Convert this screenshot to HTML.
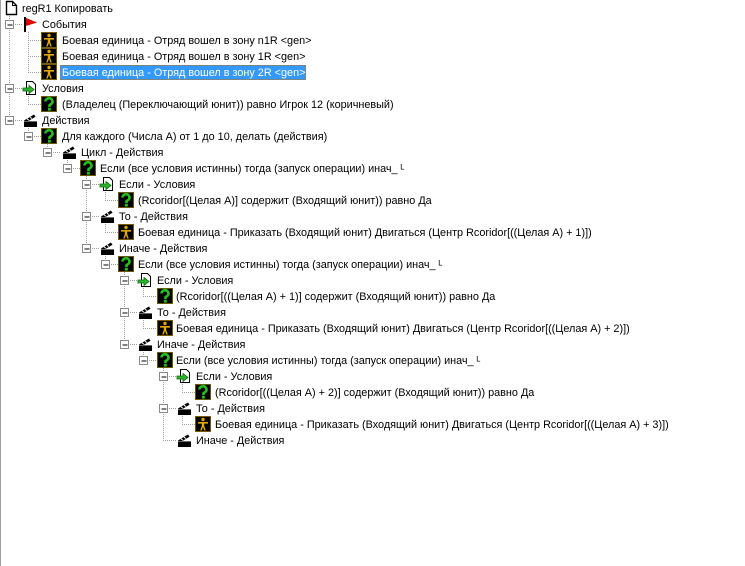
<!DOCTYPE html>
<html><head><meta charset="utf-8"><style>
html,body{margin:0;padding:0;background:#fff;width:745px;height:566px;overflow:hidden}
svg{display:block}
text{font-family:"Liberation Sans","DejaVu Sans",sans-serif;font-size:10.85px;fill:#000}
</style></head><body>
<svg width="745" height="566" viewBox="0 0 745 566" xmlns="http://www.w3.org/2000/svg">
<defs>
<g id="doc"><path d="M3.5 1.5h6l4 4v9h-10z" fill="#fff" stroke="#000" stroke-width="1.4"/><path d="M9.5 1.5v4h4" fill="none" stroke="#000"/></g>
<g id="flag"><rect x="2" y="1" width="2" height="15" fill="#000"/><path d="M4 2l11 4.5L4 10z" fill="#e00000"/></g>
<g id="unit"><rect x="0" y="0" width="16" height="16" fill="#000"/><rect x="0.5" y="0.5" width="15" height="15" fill="none" stroke="#7a5a00"/><circle cx="8" cy="3.5" r="1.7" fill="#e0a800"/><path d="M3 6h10v1.6H9.2v2.4l1.6 4.5H9.3L8 11 6.7 14.5H5.2l1.6-4.5V7.6H3z" fill="#e0a800"/></g>
<g id="q"><rect x="0" y="0" width="16" height="16" fill="#000"/><rect x="0.5" y="0.5" width="15" height="15" fill="none" stroke="#6a5a00"/><path d="M4.5 5.5a3.5 3.3 0 1 1 5 3l-1 .8v2" fill="none" stroke="#22c21a" stroke-width="2.6"/><rect x="7" y="12" width="2.8" height="2.6" fill="#22c21a"/></g>
<g id="cond"><path d="M4.5 1.5h6l3 3v10h-9z" fill="#fff" stroke="#000"/><path d="M1 8h6V5.5l5 4-5 4V11H1z" fill="#2fb52f" stroke="#0a6a0a" stroke-width="0.8"/></g>
<g id="act"><rect x="2" y="9" width="13" height="6" fill="#000"/><path d="M2 8.5l10-6 1.5 2.2-10 6z" fill="#000"/><path d="M5 6.7l1.8 1.6M8 5l1.8 1.6" stroke="#fff" stroke-width="1"/><rect x="2" y="9" width="13" height="1" fill="#666"/></g>
<g id="box"><rect x="-4" y="-4" width="8" height="8" fill="#fff" stroke="#8a8a8a"/><path d="M-2 0.5h5" stroke="#000"/></g>
</defs>
<line x1="0.5" y1="0" x2="0.5" y2="566" stroke="#a0a0a0"/>
<g stroke="#a0a0a0" stroke-dasharray="1 1" stroke-width="1">
<path d="M9.5 16V120.5 M28.5 32V72.5 M28.5 96V104.5 M28.5 128V136.5 M47.5 144V152.5 M67.5 160V168.5 M86.5 176V248.5 M105.5 192V200.5 M105.5 224V232.5 M105.5 256V264.5 M124.5 272V344.5 M143.5 288V296.5 M143.5 320V328.5 M143.5 352V360.5 M163.5 368V440.5 M182.5 384V392.5 M182.5 416V424.5"/>
<path d="M9 24.5H22 M9 88.5H22 M9 120.5H22
M28 40.5H41 M28 56.5H41 M28 72.5H41 M28 104.5H41 M28 136.5H41
M47 152.5H61 M67 168.5H80
M86 184.5H99 M86 216.5H99 M86 248.5H99
M105 200.5H118 M105 232.5H118 M105 264.5H118
M124 280.5H137 M124 312.5H137 M124 344.5H137
M143 296.5H157 M143 328.5H157 M143 360.5H157
M163 376.5H176 M163 408.5H176 M163 440.5H176
M182 392.5H195 M182 424.5H195"/>
</g>
<use href="#box" x="9.5" y="24.5"/><use href="#box" x="9.5" y="88.5"/><use href="#box" x="9.5" y="120.5"/>
<use href="#box" x="28.5" y="136.5"/><use href="#box" x="47.5" y="152.5"/><use href="#box" x="67.5" y="168.5"/>
<use href="#box" x="86.5" y="184.5"/><use href="#box" x="86.5" y="216.5"/><use href="#box" x="86.5" y="248.5"/>
<use href="#box" x="105.5" y="264.5"/><use href="#box" x="124.5" y="280.5"/><use href="#box" x="124.5" y="312.5"/><use href="#box" x="124.5" y="344.5"/>
<use href="#box" x="143.5" y="360.5"/><use href="#box" x="163.5" y="376.5"/><use href="#box" x="163.5" y="408.5"/>
<use href="#doc" x="3" y="0"/>
<use href="#flag" x="22" y="16"/>
<use href="#unit" x="41" y="32"/><use href="#unit" x="41" y="48"/><use href="#unit" x="41" y="64"/>
<use href="#cond" x="22" y="80"/>
<use href="#q" x="41" y="96"/>
<use href="#act" x="22" y="112"/>
<use href="#q" x="41" y="128"/>
<use href="#act" x="61" y="144"/>
<use href="#q" x="80" y="160"/>
<use href="#cond" x="99" y="176"/>
<use href="#q" x="118" y="192"/>
<use href="#act" x="99" y="208"/>
<use href="#unit" x="118" y="224"/>
<use href="#act" x="99" y="240"/>
<use href="#q" x="118" y="256"/>
<use href="#cond" x="137" y="272"/>
<use href="#q" x="157" y="288"/>
<use href="#act" x="137" y="304"/>
<use href="#unit" x="157" y="320"/>
<use href="#act" x="137" y="336"/>
<use href="#q" x="157" y="352"/>
<use href="#cond" x="176" y="368"/>
<use href="#q" x="195" y="384"/>
<use href="#act" x="176" y="400"/>
<use href="#unit" x="195" y="416"/>
<use href="#act" x="176" y="432"/>
<rect x="60" y="65" width="246" height="15" fill="#3399ff"/>
<rect x="60.5" y="65.5" width="245" height="14" fill="none" stroke="#c07000" stroke-dasharray="1 1"/>
<text x="22" y="12">regR1 Копировать</text>
<text x="42" y="28">События</text>
<text x="62" y="44">Боевая единица - Отряд вошел в зону n1R &lt;gen&gt;</text>
<text x="62" y="60">Боевая единица - Отряд вошел в зону 1R &lt;gen&gt;</text>
<text x="62" y="76" style="fill:#fff">Боевая единица - Отряд вошел в зону 2R &lt;gen&gt;</text>
<text x="42" y="92">Условия</text>
<text x="62" y="108">(Владелец (Переключающий юнит)) равно Игрок 12 (коричневый)</text>
<text x="42" y="124">Действия</text>
<text x="62" y="140">Для каждого (Числа А) от 1 до 10, делать (действия)</text>
<text x="81" y="156">Цикл - Действия</text>
<text x="100" y="172">Если (все условия истинны) тогда (запуск операции) инач_ ᴸ</text>
<text x="119" y="188">Если - Условия</text>
<text x="138" y="204">(Rcoridor[(Целая А)] содержит (Входящий юнит)) равно Да</text>
<text x="119" y="220">То - Действия</text>
<text x="138" y="236">Боевая единица - Приказать (Входящий юнит) Двигаться (Центр Rcoridor[((Целая А) + 1)])</text>
<text x="119" y="252">Иначе - Действия</text>
<text x="138" y="268">Если (все условия истинны) тогда (запуск операции) инач_ ᴸ</text>
<text x="157" y="284">Если - Условия</text>
<text x="176" y="300">(Rcoridor[((Целая А) + 1)] содержит (Входящий юнит)) равно Да</text>
<text x="157" y="316">То - Действия</text>
<text x="176" y="332">Боевая единица - Приказать (Входящий юнит) Двигаться (Центр Rcoridor[((Целая А) + 2)])</text>
<text x="157" y="348">Иначе - Действия</text>
<text x="176" y="364">Если (все условия истинны) тогда (запуск операции) инач_ ᴸ</text>
<text x="196" y="380">Если - Условия</text>
<text x="215" y="396">(Rcoridor[((Целая А) + 2)] содержит (Входящий юнит)) равно Да</text>
<text x="196" y="412">То - Действия</text>
<text x="215" y="428">Боевая единица - Приказать (Входящий юнит) Двигаться (Центр Rcoridor[((Целая А) + 3)])</text>
<text x="196" y="444">Иначе - Действия</text>
</svg>
</body></html>
